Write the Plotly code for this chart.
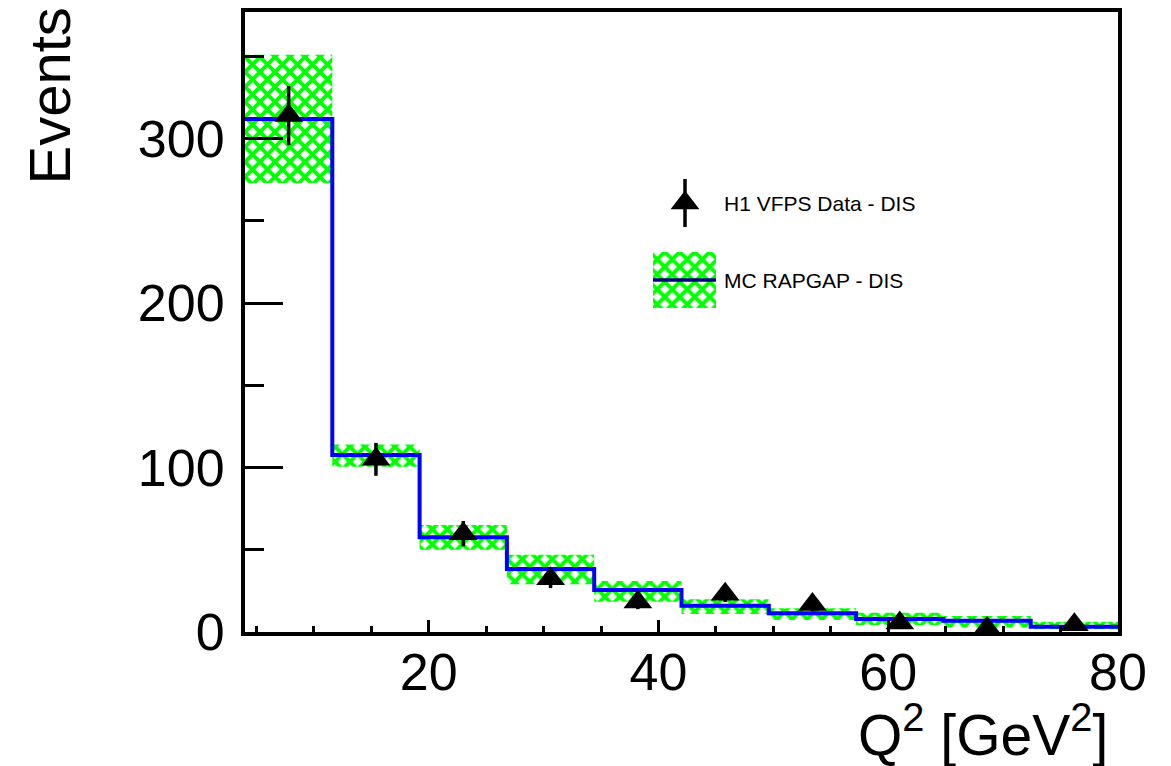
import plotly.graph_objects as go
import numpy as np

# ---- data ----
bin_edges = [4.0, 11.6, 19.2, 26.8, 34.4, 42.0, 49.6, 57.2, 64.8, 72.4, 80.0]
mc_values = [312, 107.6, 57.6, 38.3, 25.5, 16.0, 11.4, 7.9, 6.9, 3.2]
mc_band_low = [273, 100.5, 50, 29, 18.4, 10.9, 7.3, 4.3, 2.8, 1.6]
mc_band_high = [351, 114, 65, 47, 31, 19.9, 14.4, 11.7, 9.7, 6.3]
data_values = [314, 105, 59.8, 32.4, 18.2, 23.0, 16.7, 5.4, 2.2, 4.4]
data_errors = [18, 10, 7.7, 5.7, 4.3, 4.8, 4.1, 2.3, 1.5, 2.1]

x_tick_vals = [20, 40, 60, 80]
y_tick_vals = [0, 100, 200, 300]

data_label = "H1 VFPS Data - DIS"
mc_label = "MC RAPGAP - DIS"
x_title = "Q<sup>2</sup> [GeV<sup>2</sup>]"
y_title = "Events"

# ---- derived ----
edges = np.array(bin_edges)
centers = 0.5 * (edges[:-1] + edges[1:])
widths = np.diff(edges)
low = np.array(mc_band_low)
high = np.array(mc_band_high)

FONT = "Liberation Sans, Arial, Helvetica, sans-serif"
GREEN = "#00ff00"
hatch = dict(shape="x", fgcolor=GREEN, fgopacity=1, bgcolor="rgba(0,0,0,0)",
             size=10.6, solidity=0.6, fillmode="replace")

# page offset (body margin) of 8 px is compensated in the margins
OFF = 8
W, H = 1171, 766
L, R, T, B = 245, 1118, 12, 632          # plot area in screenshot pixels
PW, PH = R - L, B - T
fx = lambda px: (px - L) / PW
fy = lambda py: (B - py) / PH

fig = go.Figure()

# MC uncertainty band (hatched)
fig.add_trace(go.Bar(
    x=centers, y=high - low, base=low, width=widths,
    marker=dict(color="rgba(0,0,0,0)", line=dict(width=0), pattern=hatch),
    showlegend=False, hoverinfo="skip",
))

# MC histogram step line
fig.add_trace(go.Scatter(
    x=edges, y=list(mc_values) + [mc_values[-1]],
    mode="lines", line=dict(color="#0000ff", width=4, shape="hv"),
    showlegend=False,
))

# Data points
fig.add_trace(go.Scatter(
    x=centers, y=data_values, mode="markers",
    marker=dict(symbol="triangle-up", size=25, color="black"),
    error_y=dict(type="data", array=data_errors, color="black", thickness=3.5, width=0),
    showlegend=False,
))

# ---- manual legend on an overlay axis spanning the plot area (0..1) ----
fig.add_trace(go.Scatter(
    x=[fx(685)], y=[fy(203)], xaxis="x2", yaxis="y2", mode="markers",
    marker=dict(symbol="triangle-up", size=25, color="black"),
    error_y=dict(type="data", array=[24 / PH], color="black", thickness=3.5, width=0),
    showlegend=False, hoverinfo="skip",
))
fig.add_trace(go.Bar(
    x=[fx(684.5)], y=[(308 - 252) / PH], base=[fy(308)], width=[(716 - 653) / PW],
    xaxis="x2", yaxis="y2",
    marker=dict(color="rgba(0,0,0,0)", line=dict(width=0), pattern=hatch),
    showlegend=False, hoverinfo="skip",
))
fig.add_trace(go.Scatter(
    x=[fx(653), fx(716)], y=[fy(280), fy(280)], xaxis="x2", yaxis="y2",
    mode="lines", line=dict(color="#000080", width=3.5),
    showlegend=False, hoverinfo="skip",
))

axis_common = dict(
    showline=True, linewidth=4, linecolor="black", mirror=True,
    showgrid=False, zeroline=False, automargin=False,
    ticks="inside", tickcolor="black", tickwidth=3,
    tickfont=dict(family=FONT, size=52, color="black"),
)

fig.update_layout(
    width=W, height=H,
    margin=dict(l=L - OFF, r=W - (R - OFF), t=T - OFF, b=H - (B - OFF), autoexpand=False),
    plot_bgcolor="white", paper_bgcolor="white",
    showlegend=False,
    xaxis=dict(
        range=[bin_edges[0], bin_edges[-1]],
        tickvals=x_tick_vals, ticklen=12,
        minor=dict(dtick=5, tick0=0, ticklen=6, tickwidth=3, tickcolor="black", ticks="inside"),
        ticklabelstandoff=-8,
        **axis_common,
    ),
    yaxis=dict(
        range=[0, 377],
        tickvals=y_tick_vals, ticklen=38,
        minor=dict(dtick=50, tick0=0, ticklen=19, tickwidth=3, tickcolor="black", ticks="inside"),
        ticklabelstandoff=6,
        **axis_common,
    ),
    xaxis2=dict(overlaying="x", anchor="y2", range=[0, 1], visible=False),
    yaxis2=dict(overlaying="y", anchor="x2", range=[0, 1], visible=False),
    annotations=[
        dict(text=y_title, xref="paper", yref="paper", x=0, y=1, xshift=-(L - 49), yshift=6,
             xanchor="center", yanchor="top", textangle=-90, showarrow=False,
             font=dict(family=FONT, size=58, color="black")),
        dict(text=x_title, xref="paper", yref="paper", x=1, y=0, xshift=-8, yshift=-(731 - B),
             xanchor="right", yanchor="middle", showarrow=False,
             font=dict(family=FONT, size=57, color="black")),
        dict(text=data_label, xref="paper", yref="paper", x=fx(722), y=fy(203),
             xanchor="left", yanchor="middle", showarrow=False,
             font=dict(family=FONT, size=21, color="black")),
        dict(text=mc_label, xref="paper", yref="paper", x=fx(722), y=fy(280),
             xanchor="left", yanchor="middle", showarrow=False,
             font=dict(family=FONT, size=21, color="black")),
    ],
)

fig.write_html("out.html")
